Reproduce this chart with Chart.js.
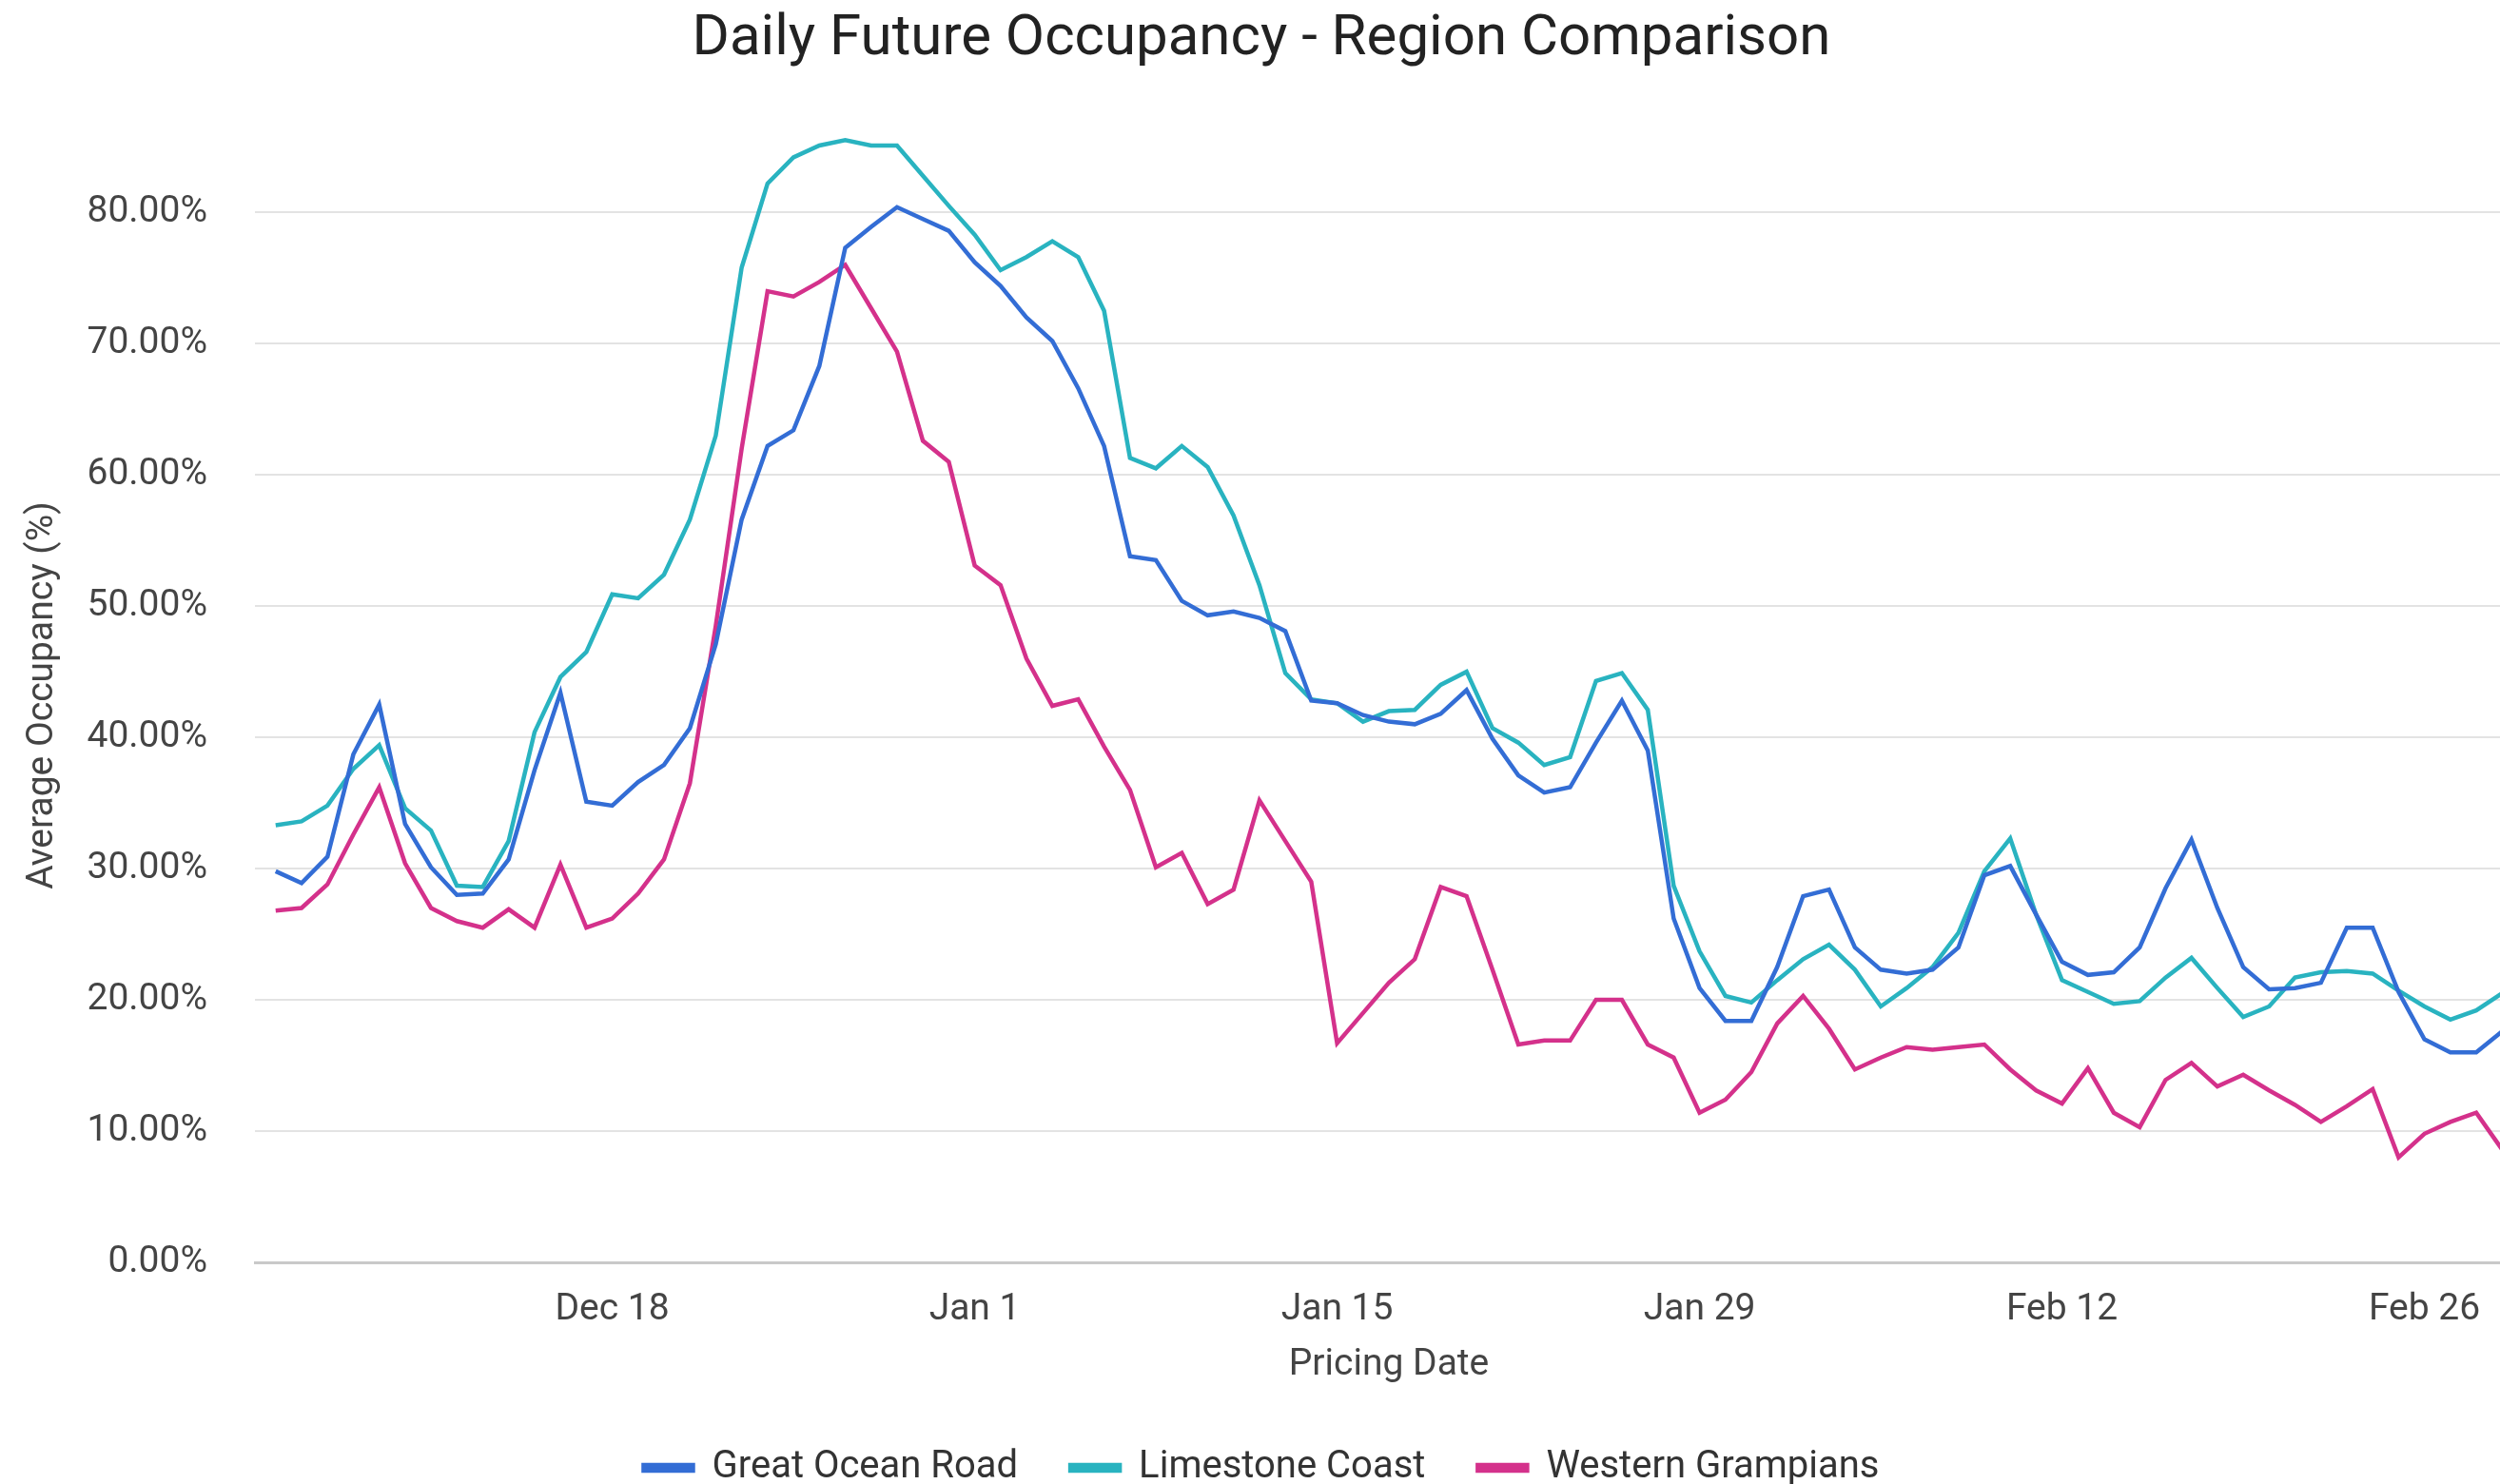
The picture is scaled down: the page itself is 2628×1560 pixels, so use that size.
<!DOCTYPE html>
<html>
<head>
<meta charset="utf-8">
<title>Daily Future Occupancy - Region Comparison</title>
<script src="https://cdn.jsdelivr.net/npm/chart.js@4.4.1/dist/chart.umd.min.js"></script>
<style>
  html, body { margin: 0; padding: 0; background: #fff; overflow: hidden; }
  #wrap { position: relative; width: 2664px; height: 1573px; }
</style>
</head>
<body>
<div id="wrap"><canvas id="chart"></canvas></div>
<script>
// pricing dates, Dec 5 to Feb 29
const dates = [
  'Dec 5','Dec 6','Dec 7','Dec 8','Dec 9','Dec 10','Dec 11','Dec 12','Dec 13','Dec 14',
  'Dec 15','Dec 16','Dec 17','Dec 18','Dec 19','Dec 20','Dec 21','Dec 22','Dec 23','Dec 24',
  'Dec 25','Dec 26','Dec 27','Dec 28','Dec 29','Dec 30','Dec 31',
  'Jan 1','Jan 2','Jan 3','Jan 4','Jan 5','Jan 6','Jan 7','Jan 8','Jan 9','Jan 10',
  'Jan 11','Jan 12','Jan 13','Jan 14','Jan 15','Jan 16','Jan 17','Jan 18','Jan 19','Jan 20',
  'Jan 21','Jan 22','Jan 23','Jan 24','Jan 25','Jan 26','Jan 27','Jan 28','Jan 29','Jan 30','Jan 31',
  'Feb 1','Feb 2','Feb 3','Feb 4','Feb 5','Feb 6','Feb 7','Feb 8','Feb 9','Feb 10',
  'Feb 11','Feb 12','Feb 13','Feb 14','Feb 15','Feb 16','Feb 17','Feb 18','Feb 19','Feb 20',
  'Feb 21','Feb 22','Feb 23','Feb 24','Feb 25','Feb 26','Feb 27','Feb 28','Feb 29'
];

const tickLabels = ['Dec 18', 'Jan 1', 'Jan 15', 'Jan 29', 'Feb 12', 'Feb 26'];

const greatOceanRoad = [
  29.8, 28.9, 30.9, 38.7, 42.5, 33.4, 30.1, 28.0, 28.1, 30.7,
  37.5, 43.4, 35.1, 34.8, 36.6, 37.9, 40.7, 47.1, 56.6, 62.2,
  63.4, 68.3, 77.3, 78.9, 80.4, 79.5, 78.6, 76.2, 74.4, 72.0,
  70.2, 66.6, 62.2, 53.8, 53.5, 50.4, 49.3, 49.6, 49.1, 48.1,
  42.8, 42.6, 41.7, 41.2, 41.0, 41.8, 43.6, 39.9, 37.1, 35.8,
  36.2, 39.6, 42.8, 39.0, 26.2, 20.9, 18.4, 18.4, 22.5, 27.9,
  28.4, 24.0, 22.3, 22.0, 22.3, 24.0, 29.5, 30.2, 26.5, 22.9,
  21.9, 22.1, 24.0, 28.5, 32.2, 27.0, 22.5, 20.8, 20.9, 21.3,
  25.5, 25.5, 20.6, 17.0, 16.0, 16.0, 17.6
];

const limestoneCoast = [
  33.3, 33.6, 34.8, 37.6, 39.4, 34.6, 32.9, 28.7, 28.6, 32.1,
  40.4, 44.6, 46.5, 50.9, 50.6, 52.4, 56.6, 63.0, 75.8, 82.2,
  84.2, 85.1, 85.5, 85.1, 85.1, 82.8, 80.5, 78.3, 75.6, 76.6,
  77.8, 76.6, 72.5, 61.3, 60.5, 62.2, 60.6, 56.9, 51.6, 44.9,
  42.9, 42.6, 41.2, 42.0, 42.1, 44.0, 45.0, 40.7, 39.6, 37.9,
  38.5, 44.3, 44.9, 42.1, 28.7, 23.7, 20.3, 19.8, 21.5, 23.1,
  24.2, 22.3, 19.5, 20.9, 22.5, 25.1, 29.8, 32.3, 26.5, 21.5,
  20.6, 19.7, 19.9, 21.7, 23.2, 20.9, 18.7, 19.5, 21.7, 22.1,
  22.2, 22.0, 20.7, 19.5, 18.5, 19.2, 20.5
];

const westernGrampians = [
  26.8, 27.0, 28.8, 32.6, 36.2, 30.4, 27.0, 26.0, 25.5, 26.9,
  25.5, 30.3, 25.5, 26.2, 28.1, 30.7, 36.5, 48.5, 62.0, 74.0,
  73.6, 74.7, 76.0, 72.7, 69.4, 62.6, 61.0, 53.1, 51.6, 46.0,
  42.4, 42.9, 39.3, 36.0, 30.1, 31.2, 27.3, 28.4, 35.2, 32.1,
  29.0, 16.7, 19.0, 21.3, 23.1, 28.6, 27.9, 22.3, 16.6, 16.9,
  16.9, 20.0, 20.0, 16.6, 15.6, 11.4, 12.4, 14.5, 18.2, 20.3,
  17.8, 14.7, 15.6, 16.4, 16.2, 16.4, 16.6, 14.7, 13.1, 12.1,
  14.8, 11.4, 10.3, 13.9, 15.2, 13.4, 14.3, 13.1, 12.0, 10.7,
  11.9, 13.2, 8.0, 9.8, 10.7, 11.4, 8.6
];

const tickIndex = tickLabels.map(l => dates.indexOf(l));
const toPoints = arr => arr.map((v, i) => ({ x: i, y: v }));

Chart.defaults.font.family = 'Roboto';

function series(label, values, color) {
    return {
        label: label,
        data: toPoints(values),
        borderColor: color,
        backgroundColor: color,
        borderWidth: 4.5,
        pointRadius: 0,
        tension: 0,
        fill: false
    };
}

new Chart(document.getElementById('chart').getContext('2d'), {
    type: 'line',
    data: {
        datasets: [
            series('Great Ocean Road', greatOceanRoad, '#336dd5'),
            series('Limestone Coast', limestoneCoast, '#29b3c0'),
            series('Western Grampians', westernGrampians, '#d4318b')
        ]
    },
    options: {
        responsive: true,
        maintainAspectRatio: false,
        devicePixelRatio: 1,
        animation: false,
        layout: { padding: { left: 0, right: 12, top: 0, bottom: 0 } },
        plugins: {
            title: {
                display: true,
                text: 'Daily Future Occupancy - Region Comparison',
                color: '#222',
                font: { size: 60, weight: 'normal' },
                padding: { top: 6, bottom: 57 }
            },
            legend: {
                position: 'bottom',
                labels: {
                    color: '#333',
                    font: { size: 40 },
                    boxWidth: 52,
                    boxHeight: 6,
                    padding: 55
                }
            },
            tooltip: { enabled: false }
        },
        scales: {
            x: {
                type: 'linear',
                min: -0.8,
                max: 86.8,
                afterBuildTicks: scale => { scale.ticks = tickIndex.map(v => ({ value: v })); },
                afterFit: scale => { scale.height = 141; },
                grid: { display: false, drawTicks: false },
                border: { display: true, color: '#c9c9c9', width: 3 },
                ticks: {
                    autoSkip: false,
                    maxRotation: 0,
                    padding: 27,
                    color: '#444',
                    font: { size: 39 },
                    callback: v => dates[v]
                },
                title: {
                    display: true,
                    text: 'Pricing Date',
                    color: '#444',
                    font: { size: 39, lineHeight: 1 },
                    padding: { top: 0, bottom: 13 }
                }
            },
            y: {
                min: 0,
                max: 86.4,
                afterFit: scale => { scale.width = 268; },
                grid: {
                    drawTicks: false,
                    lineWidth: 2,
                    color: ctx => ctx.tick && ctx.tick.value === 0 ? 'rgba(0,0,0,0)' : '#e3e3e3'
                },
                border: { display: false },
                ticks: {
                    stepSize: 10,
                    includeBounds: false,
                    padding: 50,
                    color: '#444',
                    font: { size: 39 },
                    callback: v => v.toFixed(2) + '%'
                },
                title: {
                    display: true,
                    text: 'Average Occupancy (%)',
                    color: '#444',
                    font: { size: 39 },
                    padding: { top: 22, bottom: 0 }
                }
            }
        }
    }
});
</script>
</body>
</html>
